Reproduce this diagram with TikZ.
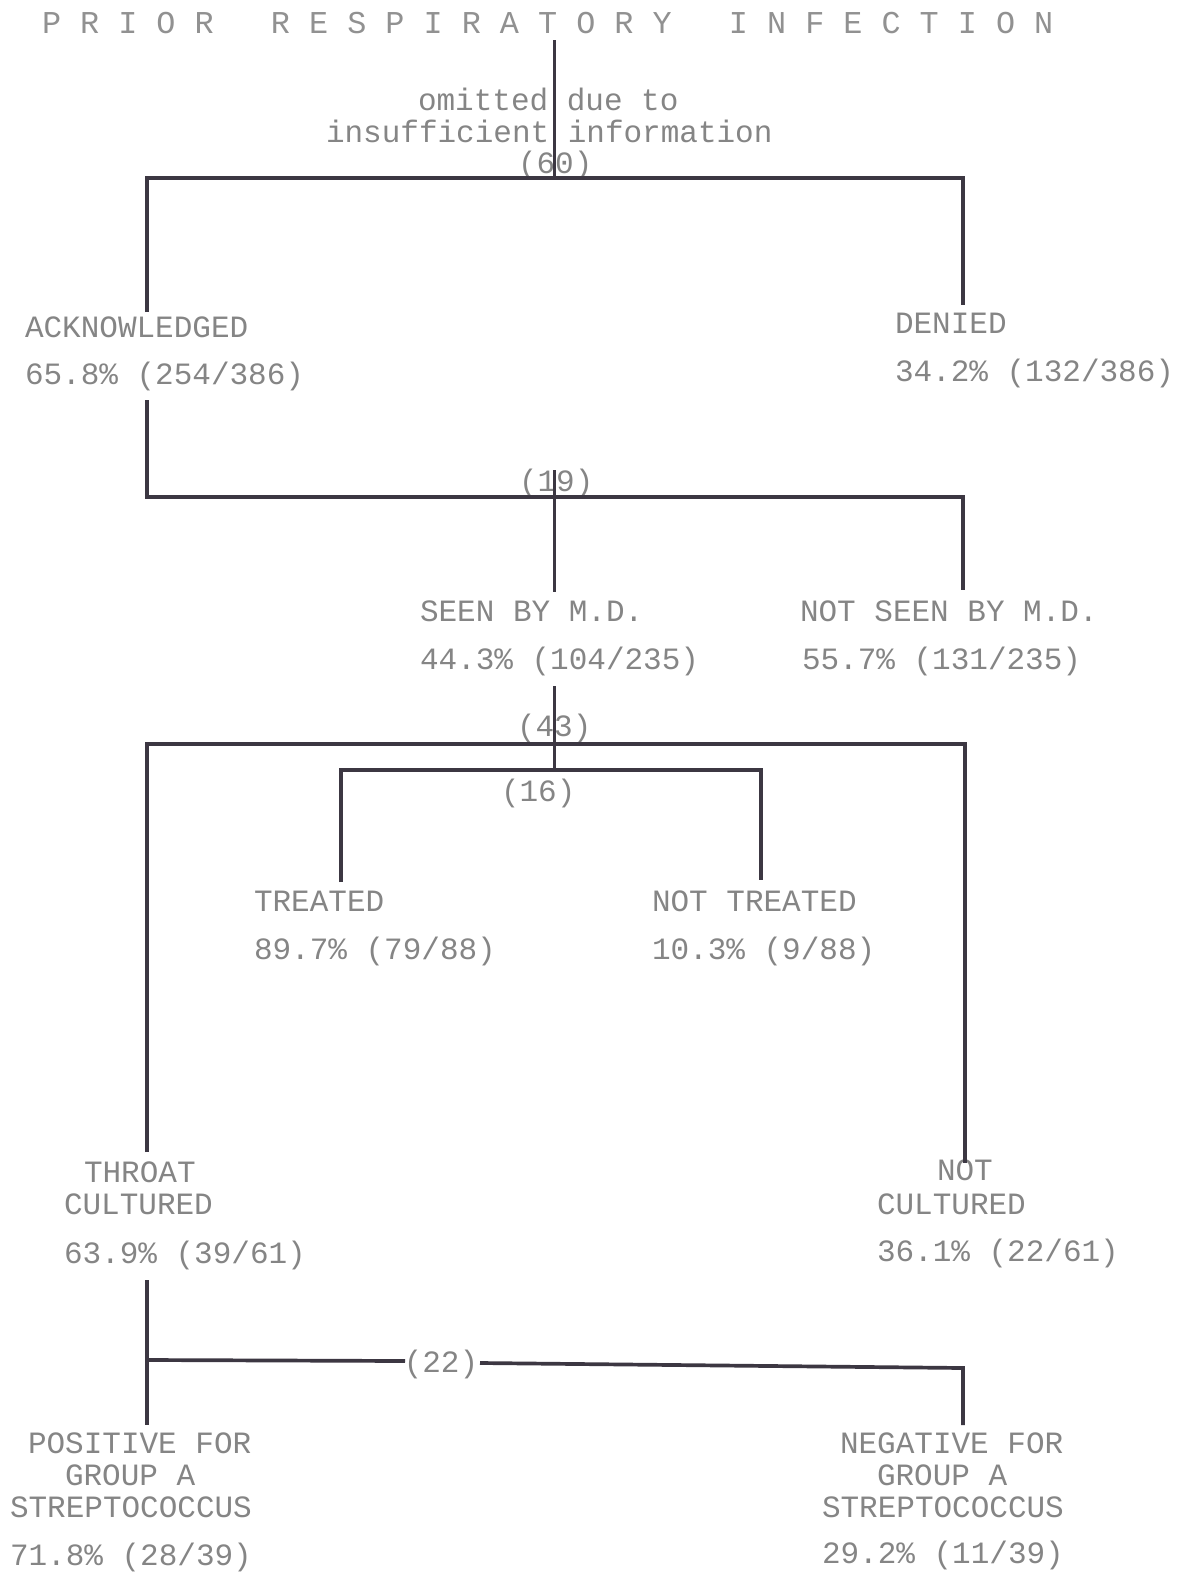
\documentclass[tikz,border=0pt]{standalone}
\usepackage{fontspec}
\newfontfamily\typefont{Liberation Mono}
\definecolor{ink}{HTML}{3C3742}
\definecolor{txt}{HTML}{858585}
\tikzset{
  lbl/.style={anchor=base west, inner sep=0pt, outer sep=0pt, text=txt,
    font=\typefont\fontsize{31}{36}\selectfont},
  ttl/.style={lbl, text=txt!90, font=\typefont\fontsize{31.8}{36}\selectfont},
  conn/.style={draw=ink, line width=3.7pt, line join=miter},
  vconn/.style={draw=ink, line width=3pt}
}
\begin{document}
\begin{tikzpicture}[x=1pt,y=-1pt]
\useasboundingbox[fill=white] (0,0) rectangle (1180,1574);

% ---- texts ----
\node[ttl] (title) at (42,33) {P~R~I~O~R~~~R~E~S~P~I~R~A~T~O~R~Y~~~I~N~F~E~C~T~I~O~N};
\node[lbl] (om1) at (418,110) {omitted due to};
\node[lbl] (om2) at (326,142) {insufficient information};
\node[lbl] (p60) at (518,173) {(60)};

\node[lbl] (ack) at (25,337) {ACKNOWLEDGED};
\node[lbl] (ackp) at (25,384) {65.8\% (254/386)};
\node[lbl] (den) at (895,333) {DENIED};
\node[lbl] (denp) at (895,381) {34.2\% (132/386)};

\node[lbl] (p19) at (519,491) {(19)};
\node[lbl] (seen) at (420,621) {SEEN BY M.D.};
\node[lbl] (seenp) at (420,669) {44.3\% (104/235)};
\node[lbl] (nseen) at (800,621) {NOT SEEN BY M.D.};
\node[lbl] (nseenp) at (802,669) {55.7\% (131/235)};

\node[lbl] (p43) at (517,736) {(43)};
\node[lbl] (p16) at (501,801) {(16)};
\node[lbl] (trt) at (254,911) {TREATED};
\node[lbl] (trtp) at (254,959) {89.7\% (79/88)};
\node[lbl] (ntrt) at (652,911) {NOT TREATED};
\node[lbl] (ntrtp) at (652,959) {10.3\% (9/88)};

\node[lbl] (thr1) at (84,1182) {THROAT};
\node[lbl] (thr2) at (64,1214) {CULTURED};
\node[lbl] (thrp) at (64,1263) {63.9\% (39/61)};
\node[lbl] (ncu1) at (937,1180) {NOT};
\node[lbl] (ncu2) at (877,1214) {CULTURED};
\node[lbl] (ncup) at (877,1261) {36.1\% (22/61)};

\node[lbl, anchor=base] (p22) at (441,1372) {(22)};

\node[lbl] (pos1) at (28,1453) {POSITIVE FOR};
\node[lbl] (pos2) at (65,1485) {GROUP A};
\node[lbl] (pos3) at (10,1517) {STREPTOCOCCUS};
\node[lbl] (posp) at (10,1565) {71.8\% (28/39)};
\node[lbl] (neg1) at (840,1453) {NEGATIVE FOR};
\node[lbl] (neg2) at (877,1485) {GROUP A};
\node[lbl] (neg3) at (822,1517) {STREPTOCOCCUS};
\node[lbl] (negp) at (822,1563) {29.2\% (11/39)};

% ---- junction coordinates ----
\coordinate (a0) at (554,40);
\coordinate (a1) at (554,178);
\coordinate (a1l) at (147,178);
\coordinate (a1r) at (963,178);
\coordinate (ackT) at (147,312);
\coordinate (denT) at (963,305);

\coordinate (ackB) at (147,400);
\coordinate (b1l) at (147,497);
\coordinate (b1r) at (963,497);
\coordinate (b1m) at (554,470);
\coordinate (seenT) at (554,592);
\coordinate (nseenT) at (963,590);

\coordinate (seenB) at (554,686);
\coordinate (c1l) at (147,744);
\coordinate (c1r) at (965,744);
\coordinate (c2m) at (554,770);
\coordinate (c2l) at (341,770);
\coordinate (c2r) at (761,770);
\coordinate (trtT) at (341,882);
\coordinate (ntrtT) at (761,880);
\coordinate (thrT) at (147,1152);
\coordinate (ncuT) at (965,1163);

\coordinate (thrB) at (147,1280);
\coordinate (d1l) at (147,1360);
\coordinate (d1a) at (405,1361);
\coordinate (d1b) at (480,1363);
\coordinate (d1r) at (963,1368);
\coordinate (posT) at (147,1425);
\coordinate (negT) at (963,1425);

% ---- connectors ----
\draw[vconn] (a0) -- (a1);
\draw[conn] (ackT) -- (a1l) -- (a1r) -- (denT);

\draw[conn] (ackB) -- (b1l) -- (b1r) -- (nseenT);
\draw[vconn] (b1m) -- (seenT);

\draw[vconn] (seenB) -- (c2m);
\draw[conn] (thrT) -- (c1l) -- (c1r) -- (ncuT);
\draw[conn] (trtT) -- (c2l) -- (c2r) -- (ntrtT);

\draw[conn] (thrB) -- (posT);
\draw[conn] (d1l) -- (d1a);
\draw[conn] (d1b) -- (d1r) -- (negT);
\end{tikzpicture}
\end{document}
